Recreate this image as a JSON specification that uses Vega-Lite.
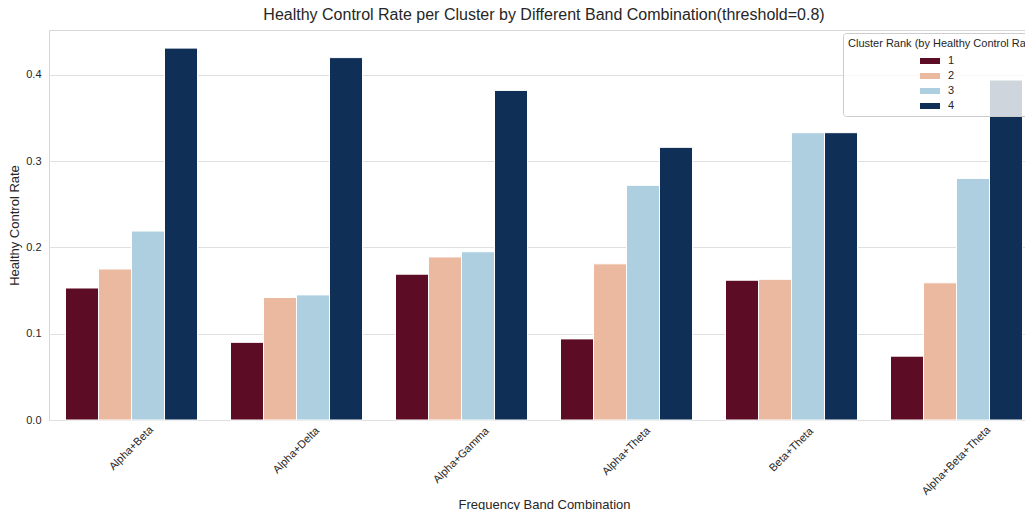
{
  "$schema": "https://vega.github.io/schema/vega-lite/v6.json",
  "autosize": "none",
  "width": 990,
  "height": 390,
  "padding": {"left": 49, "top": 30, "right": 0, "bottom": 90},
  "background": "white",
  "config": {
    "font": "Liberation Sans",
    "view": {"stroke": "#d6d6d6", "strokeWidth": 1},
    "axis": {"labelColor": "#262626", "titleColor": "#262626", "labelFontWeight": "normal", "titleFontWeight": "normal"}
  },
  "title": {"text": "Healthy Control Rate per Cluster by Different Band Combination(threshold=0.8)", "fontSize": 16, "fontWeight": "normal", "color": "#262626", "offset": 7, "anchor": "middle"},
  "data": {"values": [
    {"combo": "Alpha+Beta", "rank": "1", "rate": 0.153},
    {"combo": "Alpha+Beta", "rank": "2", "rate": 0.175},
    {"combo": "Alpha+Beta", "rank": "3", "rate": 0.219},
    {"combo": "Alpha+Beta", "rank": "4", "rate": 0.431},
    {"combo": "Alpha+Delta", "rank": "1", "rate": 0.090},
    {"combo": "Alpha+Delta", "rank": "2", "rate": 0.142},
    {"combo": "Alpha+Delta", "rank": "3", "rate": 0.145},
    {"combo": "Alpha+Delta", "rank": "4", "rate": 0.420},
    {"combo": "Alpha+Gamma", "rank": "1", "rate": 0.169},
    {"combo": "Alpha+Gamma", "rank": "2", "rate": 0.189},
    {"combo": "Alpha+Gamma", "rank": "3", "rate": 0.195},
    {"combo": "Alpha+Gamma", "rank": "4", "rate": 0.382},
    {"combo": "Alpha+Theta", "rank": "1", "rate": 0.094},
    {"combo": "Alpha+Theta", "rank": "2", "rate": 0.181},
    {"combo": "Alpha+Theta", "rank": "3", "rate": 0.272},
    {"combo": "Alpha+Theta", "rank": "4", "rate": 0.316},
    {"combo": "Beta+Theta", "rank": "1", "rate": 0.162},
    {"combo": "Beta+Theta", "rank": "2", "rate": 0.163},
    {"combo": "Beta+Theta", "rank": "3", "rate": 0.333},
    {"combo": "Beta+Theta", "rank": "4", "rate": 0.333},
    {"combo": "Alpha+Beta+Theta", "rank": "1", "rate": 0.074},
    {"combo": "Alpha+Beta+Theta", "rank": "2", "rate": 0.159},
    {"combo": "Alpha+Beta+Theta", "rank": "3", "rate": 0.280},
    {"combo": "Alpha+Beta+Theta", "rank": "4", "rate": 0.394}
  ]},
  "mark": {"type": "bar", "stroke": "white", "strokeWidth": 1},
  "encoding": {
    "x": {
      "field": "combo", "type": "nominal", "sort": null,
      "scale": {"paddingInner": 0.2, "paddingOuter": 0.1},
      "axis": {
        "title": "Frequency Band Combination", "titleFontSize": 13, "titlePadding": 2,
        "labelAngle": -45, "labelAlign": "center", "labelBaseline": "middle", "labelFontSize": 11,
        "ticks": false, "domain": false,
        "labelPadding": {"condition": [
          {"test": "datum.value == 'Alpha+Beta'", "value": 28},
          {"test": "datum.value == 'Alpha+Delta'", "value": 30},
          {"test": "datum.value == 'Alpha+Gamma'", "value": 35},
          {"test": "datum.value == 'Alpha+Theta'", "value": 31},
          {"test": "datum.value == 'Beta+Theta'", "value": 29.5}
        ], "value": 40.5}
      }
    },
    "xOffset": {"field": "rank", "type": "nominal", "scale": {"paddingInner": 0, "paddingOuter": 0}},
    "y": {
      "field": "rate", "type": "quantitative",
      "scale": {"domain": [0, 0.452], "nice": false},
      "axis": {"title": "Healthy Control Rate", "titleFontSize": 13, "titlePadding": 4, "values": [0, 0.1, 0.2, 0.3, 0.4], "format": ".1f", "labelFontSize": 11, "ticks": false, "domain": false, "labelPadding": 8, "gridColor": "#e0e0e0", "gridWidth": 1}
    },
    "color": {
      "field": "rank", "type": "nominal",
      "scale": {"domain": ["1", "2", "3", "4"], "range": ["#5c0d25", "#ebb9a0", "#aecfe0", "#0f2f57"]},
      "legend": {
        "title": "Cluster Rank (by Healthy Control Rate)",
        "orient": "none", "legendX": 794, "legendY": 3,
        "titleFontSize": 11, "titleFontWeight": "normal", "titleColor": "#262626", "titleLimit": 400, "titlePadding": 2,
        "labelFontSize": 11, "labelColor": "#262626", "labelOffset": 8,
        "symbolType": "M-1,-0.3H1V0.3H-1Z", "symbolSize": 400, "symbolStrokeWidth": 0, "symbolOpacity": 1,
        "symbolOffset": 72, "rowPadding": 0,
        "fillColor": "rgba(255,255,255,0.8)", "strokeColor": "#cccccc", "cornerRadius": 3, "padding": 5
      }
    }
  }
}
